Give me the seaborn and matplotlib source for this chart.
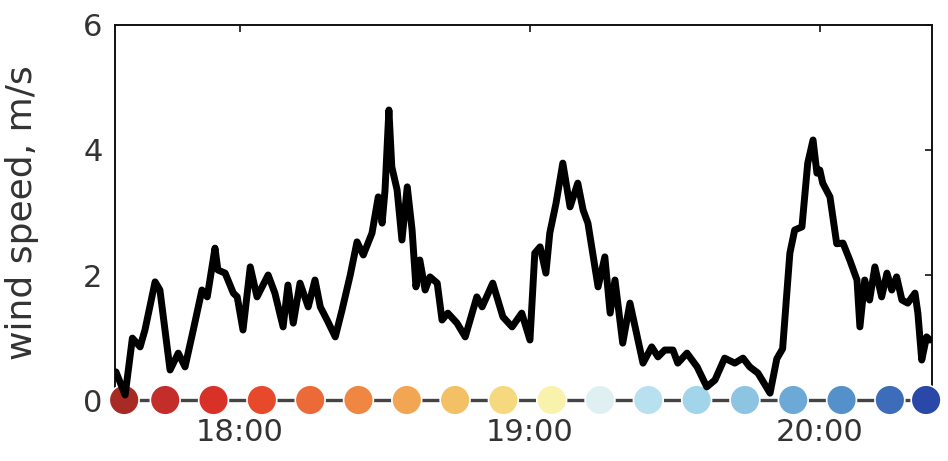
import numpy as np
import pandas as pd
import matplotlib
matplotlib.use("Agg")
import matplotlib.pyplot as plt
import matplotlib.dates as mdates
import seaborn as sns

# Wind speed record: minutes after 17:00 and speed in m/s
minutes = [
    34.3, 36.2, 37.7, 39.3, 40.3, 42.4, 43.4, 45.5, 47.2, 48.6, 50.3, 52.1,
    53.2, 54.8, 55.4, 56.9, 58.6, 59.4, 60.6, 62.1, 63.5, 65.8, 67.2, 68.9,
    69.9, 71.0, 72.4, 74.1, 75.5, 76.6, 78.0, 79.7, 81.1, 82.8, 84.2, 85.5,
    87.3, 88.6, 89.4, 90.0, 90.8, 91.4, 92.5, 93.5, 94.6, 95.6, 96.4, 97.2,
    98.3, 99.3, 100.8, 101.8, 103.0, 104.9, 106.6, 109.0, 110.1, 112.3, 114.4,
    116.3, 118.3, 120.0, 121.0, 122.1, 123.3, 124.1, 125.4, 126.8, 128.3,
    129.9, 131.0, 132.0, 134.1, 135.5, 136.6, 137.6, 139.2, 140.7, 143.4,
    145.2, 146.5, 147.9, 149.6, 150.6, 152.5, 154.6, 156.6, 158.3, 160.3,
    162.4, 164.1, 165.5, 167.2, 169.7, 171.1, 172.3, 173.8, 174.8, 176.3,
    177.5, 178.6, 179.4, 180.0, 180.6, 182.1, 183.5, 184.8, 186.2, 187.7,
    188.3, 189.3, 190.3, 191.4, 192.8, 193.9, 194.9, 195.9, 197.0, 198.2,
    199.7, 200.3, 201.1, 202.1, 202.8,
]
wind_speed = [
    0.45, 0.08, 0.99, 0.85, 1.12, 1.89, 1.76, 0.48, 0.75, 0.53, 1.12, 1.76,
    1.65, 2.43, 2.08, 2.03, 1.71, 1.65, 1.12, 2.13, 1.65, 2.00, 1.71, 1.17,
    1.84, 1.23, 1.87, 1.49, 1.92, 1.49, 1.28, 1.01, 1.44, 2.00, 2.53, 2.32,
    2.67, 3.25, 2.83, 3.36, 4.64, 3.73, 3.36, 2.56, 3.41, 2.72, 1.81, 2.24,
    1.76, 1.97, 1.87, 1.28, 1.39, 1.23, 1.01, 1.65, 1.49, 1.87, 1.33,
    1.17, 1.39, 0.96, 2.35, 2.45, 2.03, 2.67, 3.15, 3.79, 3.09,
    3.47, 3.04, 2.83, 1.81, 2.29, 1.39, 1.92, 0.91, 1.55, 0.59,
    0.85, 0.69, 0.80, 0.80, 0.59, 0.75, 0.53, 0.21, 0.32, 0.67,
    0.59, 0.67, 0.53, 0.43, 0.11, 0.66, 0.82, 2.35, 2.72, 2.77,
    3.79, 4.16, 3.63, 3.68, 3.47, 3.25, 2.50, 2.51, 2.24, 1.92,
    1.17, 1.92, 1.60, 2.13, 1.65, 2.03, 1.76, 1.97, 1.60, 1.55,
    1.71, 1.39, 0.64, 1.01, 0.96,
]

# Sampling times marked along the time axis (minutes after 17:00)
sample_minutes = [36.0, 44.5, 54.5, 64.5, 74.5, 84.5, 94.5, 104.5, 114.5,
                  124.5, 134.5, 144.5, 154.5, 164.5, 174.5, 184.5, 194.5, 202.0]
sample_colors = [
    "#a82a25", "#c42e2a", "#d83228", "#e64a2a", "#eb6a37", "#ef8641",
    "#f2a653", "#f4c065", "#f6d97e", "#f9f2ad", "#e0f0f2", "#b9e0ef",
    "#a3d5ea", "#8dc4e2", "#6ca9d6", "#5491ca", "#3c6cba", "#2a48a8",
]

y_ticks = [0, 2, 4, 6]
y_label = "wind speed, m/s"

base = pd.Timestamp("2000-01-01 17:00")
wind = pd.DataFrame({
    "time": base + pd.to_timedelta(minutes, unit="m"),
    "speed": wind_speed,
})
samples = pd.DataFrame({
    "time": base + pd.to_timedelta(sample_minutes, unit="m"),
    "level": np.zeros(len(sample_minutes)),
    "idx": [str(i) for i in range(len(sample_minutes))],
})

sns.set_style("white")
plt.rcParams["font.family"] = ["DejaVu Sans"]

fig = plt.figure(figsize=(9.48, 4.61), dpi=100)
ax = fig.add_axes([0.1213, 0.1323, 0.8617, 0.8135])

# sample track along the baseline
sns.lineplot(data=samples, x="time", y="level", ax=ax, color="#444444",
             linewidth=2.4, zorder=3, clip_on=False)
sns.scatterplot(data=samples, x="time", y="level", hue="idx",
                palette=sample_colors, s=460, edgecolor="white",
                linewidth=1.2, legend=False, ax=ax, zorder=4, clip_on=False)

# wind speed trace
sns.lineplot(data=wind, x="time", y="speed", ax=ax, color="black",
             linewidth=5.0, zorder=5, sort=False)
for ln in ax.lines:
    ln.set_solid_joinstyle("round")
    ln.set_solid_capstyle("round")

ax.set_xlim(base + pd.Timedelta(minutes=34.1), base + pd.Timedelta(minutes=203.2))
ax.set_ylim(0, 6)
ax.set_yticks(y_ticks)
ax.xaxis.set_major_locator(mdates.HourLocator())
ax.xaxis.set_major_formatter(mdates.DateFormatter("%H:%M"))

ax.set_xlabel("")
ax.set_ylabel(y_label, fontsize=26, color="#333333")
ax.yaxis.set_label_coords(-0.093, 0.5)

for side in ("left", "top", "right"):
    ax.spines[side].set_color("#111111")
    ax.spines[side].set_linewidth(1.4)
ax.spines["bottom"].set_visible(False)

ax.tick_params(axis="both", direction="in", length=5, width=1.2,
               top=True, right=True, labelsize=22, labelcolor="#333333",
               color="#111111")
ax.tick_params(axis="x", pad=13)
ax.tick_params(axis="y", pad=9)

fig.savefig("out.png", dpi=100)
